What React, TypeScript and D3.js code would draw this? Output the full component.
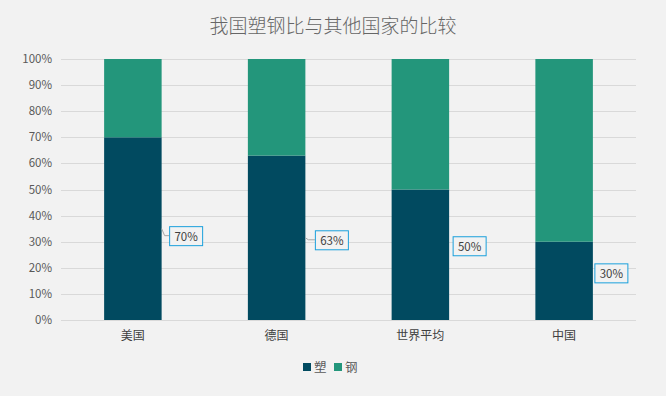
import React, { useRef, useEffect } from "react";
import * as d3 from "d3";

const categories = ["美国", "德国", "世界平均", "中国"];
const plasticShare = [70, 63, 50, 30];
const steelShare = [30, 37, 50, 70];
const seriesNames = ["塑", "钢"];
const yTicks = [0, 10, 20, 30, 40, 50, 60, 70, 80, 90, 100];

// callout offsets (px) relative to bar right edge / segment middle
const calloutOffsets = [
  { dx: 24, dy: 7, leader: true },
  { dx: 26, dy: 2, leader: true },
  { dx: 20, dy: -9, leader: false },
  { dx: 18, dy: -8, leader: false },
];

const COLORS = ["#014A60", "#23967B"];
const FONT = "'Noto Sans CJK SC', 'Noto Sans', sans-serif";

const width = 666;
const height = 396;

const App = () => {
  const ref = useRef<SVGSVGElement | null>(null);

  useEffect(() => {
    if (!ref.current) return;
    const svg = d3.select(ref.current);
    svg.selectAll("*").remove();

    const margin = { top: 59, right: 30, bottom: 76, left: 61 };
    const innerW = width - margin.left - margin.right;
    const innerH = height - margin.top - margin.bottom;

    svg.append("rect").attr("width", width).attr("height", height).attr("fill", "#F2F2F2");

    svg
      .append("text")
      .attr("x", width / 2)
      .attr("y", 33)
      .attr("text-anchor", "middle")
      .attr("font-size", "19px")
      .attr("font-family", FONT)
      .attr("font-weight", 300)
      .attr("fill", "#666666")
      .text("我国塑钢比与其他国家的比较");

    const g = svg.append("g").attr("transform", `translate(${margin.left},${margin.top})`);

    const x = d3.scaleBand().domain(categories).range([0, innerW]).paddingInner(0.6).paddingOuter(0.3);
    const y = d3.scaleLinear().domain([0, 100]).range([innerH, 0]);

    // gridlines
    g.selectAll(".grid")
      .data(yTicks)
      .enter()
      .append("line")
      .attr("x1", 0)
      .attr("x2", innerW)
      .attr("y1", (d) => Math.round(y(d)) + 0.5)
      .attr("y2", (d) => Math.round(y(d)) + 0.5)
      .attr("stroke", "#D9D9D9")
      .attr("stroke-width", 1);

    // y labels
    g.selectAll(".ylab")
      .data(yTicks)
      .enter()
      .append("text")
      .attr("x", -9)
      .attr("y", (d) => y(d))
      .attr("dy", "0.35em")
      .attr("text-anchor", "end")
      .attr("font-size", "11.5px")
      .attr("font-family", FONT)
      .attr("fill", "#595959")
      .text((d) => `${d}%`);

    const rows = categories.map((c, i) => ({ cat: c, 塑: plasticShare[i], 钢: steelShare[i] }));
    const stack = d3.stack<any>().keys(seriesNames);
    const layers = stack(rows);

    layers.forEach((layer, li) => {
      g.selectAll(`.bar-${li}`)
        .data(layer)
        .enter()
        .append("rect")
        .attr("x", (d: any) => x(d.data.cat)!)
        .attr("width", x.bandwidth())
        .attr("y", (d) => y(d[1]))
        .attr("height", (d) => y(d[0]) - y(d[1]))
        .attr("fill", COLORS[li]);
    });

    // callouts for 塑
    layers[0].forEach((d: any, i) => {
      const bx = x(d.data.cat)! + x.bandwidth();
      const by = y((d[0] + d[1]) / 2);
      const off = calloutOffsets[i];
      const cx = bx + off.dx;
      const cy = by + off.dy;
      const bw = 33;
      const bh = 19;
      if (off.leader) {
        g.append("path")
          .attr("d", `M${bx},${by} L${bx + 3},${cy} L${cx - bw / 2},${cy}`)
          .attr("fill", "none")
          .attr("stroke", "#A6A6A6")
          .attr("stroke-width", 1);
      }
      g.append("rect")
        .attr("x", cx - bw / 2 + 0.5)
        .attr("y", cy - bh / 2 + 0.5)
        .attr("width", bw)
        .attr("height", bh)
        .attr("fill", "#F2F2F2")
        .attr("stroke", "#1AA0DC")
        .attr("stroke-width", 1);
      g.append("text")
        .attr("x", cx + 0.5)
        .attr("y", cy + 1)
        .attr("dy", "0.35em")
        .attr("text-anchor", "middle")
        .attr("font-size", "11.5px")
        .attr("font-family", FONT)
        .attr("fill", "#404040")
        .text(`${d.data["塑"]}%`);
    });

    // category labels
    g.selectAll(".xlab")
      .data(categories)
      .enter()
      .append("text")
      .attr("x", (d) => x(d)! + x.bandwidth() / 2)
      .attr("y", innerH + 16)
      .attr("dy", "0.35em")
      .attr("text-anchor", "middle")
      .attr("font-size", "12px")
      .attr("font-family", FONT)
      .attr("fill", "#404040")
      .text((d) => d);

    // legend
    const legend = svg.append("g").attr("transform", `translate(303, 367)`);
    const items = [
      { name: seriesNames[0], color: COLORS[0], x: 0 },
      { name: seriesNames[1], color: COLORS[1], x: 31 },
    ];
    items.forEach((it) => {
      legend
        .append("rect")
        .attr("x", it.x)
        .attr("y", -4)
        .attr("width", 8)
        .attr("height", 8)
        .attr("fill", it.color);
      legend
        .append("text")
        .attr("x", it.x + 11)
        .attr("y", 0)
        .attr("dy", "0.36em")
        .attr("font-size", "12.5px")
        .attr("font-family", FONT)
        .attr("fill", "#595959")
        .text(it.name);
    });
  }, []);

  return (
    <div style={{ position: "absolute", left: 0, top: 0 }}>
      <svg ref={ref} width={width} height={height} viewBox={`0 0 ${width} ${height}`} style={{ display: "block" }} />
    </div>
  );
};

export default App;
